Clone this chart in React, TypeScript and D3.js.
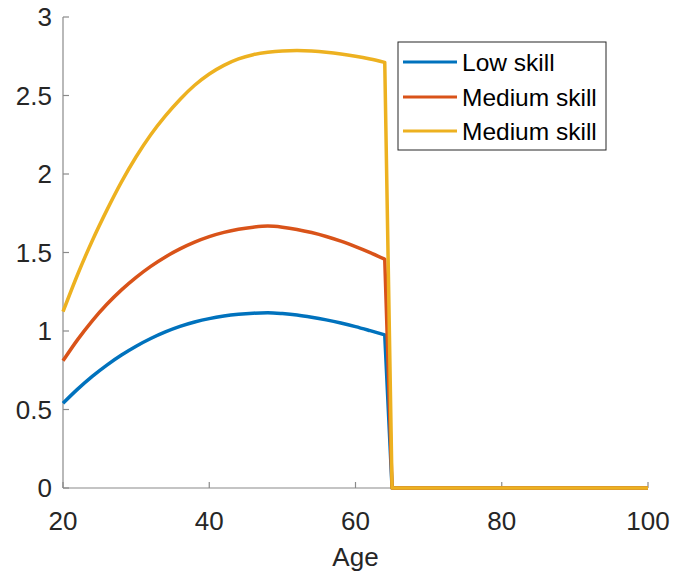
import React from "react";
import * as d3 from "d3";

const ages = [20, 22, 24, 26, 28, 30, 32, 34, 36, 38, 40, 42, 44, 46, 48, 50, 52, 54, 56, 58, 60, 62, 64, 65, 100];
const lowSkill = [0.54, 0.63, 0.711, 0.783, 0.847, 0.903, 0.952, 0.994, 1.029, 1.057, 1.079, 1.095, 1.106, 1.113, 1.116, 1.111, 1.102, 1.088, 1.071, 1.051, 1.028, 1.002, 0.975, 0, 0];
const mediumSkill = [0.81, 0.945, 1.065, 1.17, 1.262, 1.342, 1.412, 1.472, 1.523, 1.566, 1.601, 1.628, 1.648, 1.661, 1.668, 1.661, 1.647, 1.627, 1.602, 1.572, 1.537, 1.499, 1.457, 0, 0];
const highSkill = [1.123, 1.36, 1.575, 1.77, 1.95, 2.11, 2.25, 2.37, 2.475, 2.565, 2.637, 2.692, 2.733, 2.76, 2.776, 2.784, 2.786, 2.783, 2.776, 2.765, 2.75, 2.732, 2.711, 0, 0];
const seriesNames = ["Low skill", "Medium skill", "Medium skill"];
const colors = ["#0072BD", "#D95319", "#EDB120"];
const xTicks = [20, 40, 60, 80, 100];
const yTicks = [0, 0.5, 1, 1.5, 2, 2.5, 3];

export default function App() {
  const W = 675, H = 577;
  const left = 63, right = 648, top = 17, bottom = 488;
  const x = d3.scaleLinear().domain([20, 100]).range([left, right]);
  const y = d3.scaleLinear().domain([0, 3]).range([bottom, top]);
  const series = [lowSkill, mediumSkill, highSkill];
  const pts = (s: number[]) => s.map((v, i) => [ages[i], v] as [number, number]);
  const smooth = d3.line<[number, number]>().x((d) => x(d[0])).y((d) => y(d[1])).curve(d3.curveMonotoneX);
  const straight = d3.line<[number, number]>().x((d) => x(d[0])).y((d) => y(d[1]));
  const font = "'Liberation Sans', Arial, Helvetica, sans-serif";
  const axisColor = "#8a8a8a";
  const textColor = "#262626";
  const legX = 398, legY = 42, legW = 208, legH = 108;
  const rowY = [62, 97, 131];
  return (
    <svg width={W} height={H} style={{ position: "absolute", left: 0, top: 0, background: "#fff" }}>
      <rect x={0} y={0} width={W} height={H} fill="#fff" />
      <line x1={left} x2={left} y1={top} y2={bottom} stroke={axisColor} strokeWidth={1.2} />
      <line x1={left} x2={right} y1={bottom} y2={bottom} stroke={axisColor} strokeWidth={1.2} />
      {yTicks.map((t) => (
        <g key={"y" + t}>
          <line x1={left} x2={left + 6} y1={y(t)} y2={y(t)} stroke={axisColor} strokeWidth={1.2} />
          <text x={left - 11} y={y(t)} dy="0.36em" textAnchor="end" fontFamily={font} fontSize={26} fill={textColor}>
            {t}
          </text>
        </g>
      ))}
      {xTicks.map((t) => (
        <g key={"x" + t}>
          <line x1={x(t)} x2={x(t)} y1={bottom} y2={bottom - 6} stroke={axisColor} strokeWidth={1.2} />
          <text x={x(t)} y={530} textAnchor="middle" fontFamily={font} fontSize={26} fill={textColor}>
            {t}
          </text>
        </g>
      ))}
      <text x={(left + right) / 2} y={566} textAnchor="middle" fontFamily={font} fontSize={26} fill={textColor}>
        Age
      </text>
      {series.map((s, i) => {
        const p = pts(s);
        const work = p.filter((d) => d[0] <= 64);
        const tail = p.filter((d) => d[0] >= 64);
        const d = (smooth(work) || "") + (straight(tail) || "").replace(/^M/, "L");
        return <path key={i} d={d} fill="none" stroke={colors[i]} strokeWidth={3.5} strokeLinejoin="round" />;
      })}
      <rect x={legX} y={legY} width={legW} height={legH} fill="#fff" stroke="#262626" strokeWidth={1} />
      {seriesNames.map((n, i) => (
        <g key={"l" + i}>
          <line x1={403} x2={457} y1={rowY[i]} y2={rowY[i]} stroke={colors[i]} strokeWidth={3} />
          <text x={462} y={rowY[i]} dy="0.36em" fontFamily={font} fontSize={24.5} fill="#000">
            {n}
          </text>
        </g>
      ))}
    </svg>
  );
}
